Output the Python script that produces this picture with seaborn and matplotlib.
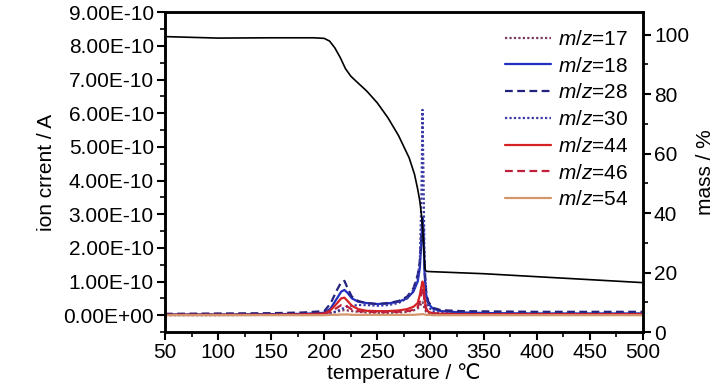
import numpy as np
import pandas as pd
import seaborn as sns
import matplotlib.pyplot as plt
from matplotlib.ticker import FuncFormatter, MultipleLocator

# temperature grid for the MS signals (deg C)
temp = [50, 100, 150, 180, 200, 206, 212, 216, 219, 222, 226, 232, 240, 250, 260,
        270, 278, 284, 288, 290, 291.5, 292.5, 293.5, 294.5, 296, 298, 302, 310,
        330, 360, 400, 450, 500]

# ion currents in units of 1e-10 A
mz17 = [0.0, 0.0, 0.01, 0.01, 0.03, 0.06, 0.1, 0.14, 0.15, 0.14, 0.12, 0.1, 0.08, 0.07, 0.07,
        0.08, 0.1, 0.14, 0.2, 0.28, 0.35, 0.4, 0.32, 0.18, 0.1, 0.06, 0.04, 0.03,
        0.02, 0.02, 0.02, 0.02, 0.02]
mz18 = [0.02, 0.02, 0.03, 0.04, 0.07, 0.2, 0.5, 0.7, 0.75, 0.66, 0.5, 0.4, 0.36, 0.33, 0.35,
        0.4, 0.5, 0.7, 1.0, 1.4, 2.2, 2.9, 2.4, 1.2, 0.6, 0.35, 0.2, 0.12,
        0.08, 0.06, 0.05, 0.05, 0.05]
mz28 = [0.04, 0.05, 0.06, 0.08, 0.12, 0.35, 0.75, 0.98, 1.02, 0.8, 0.55, 0.42, 0.36, 0.33, 0.36,
        0.42, 0.55, 0.8, 1.2, 1.6, 2.4, 2.8, 2.5, 1.4, 0.7, 0.4, 0.22, 0.15,
        0.12, 0.11, 0.1, 0.1, 0.1]
mz30 = [0.01, 0.01, 0.02, 0.02, 0.03, 0.06, 0.12, 0.18, 0.22, 0.26, 0.28, 0.3, 0.3, 0.28, 0.3,
        0.36, 0.5, 0.75, 1.1, 1.6, 3.5, 6.1, 4.0, 1.5, 0.5, 0.25, 0.12, 0.07,
        0.05, 0.04, 0.04, 0.04, 0.04]
mz44 = [0.01, 0.01, 0.01, 0.02, 0.05, 0.15, 0.35, 0.5, 0.52, 0.42, 0.28, 0.18, 0.13, 0.12, 0.12,
        0.14, 0.18, 0.25, 0.36, 0.6, 0.85, 1.0, 0.9, 0.5, 0.2, 0.1, 0.06, 0.04,
        0.03, 0.03, 0.03, 0.03, 0.03]
mz46 = [0.01, 0.01, 0.01, 0.02, 0.04, 0.1, 0.22, 0.3, 0.31, 0.25, 0.17, 0.12, 0.1, 0.09, 0.09,
        0.1, 0.12, 0.16, 0.24, 0.4, 0.65, 0.8, 0.7, 0.35, 0.15, 0.08, 0.05, 0.04,
        0.03, 0.03, 0.03, 0.03, 0.03]
mz54 = [0.0, 0.0, 0.0, 0.0, 0.0, 0.01, 0.01, 0.02, 0.02, 0.02, 0.01, 0.01, 0.01, 0.01, 0.01,
        0.01, 0.01, 0.01, 0.02, 0.02, 0.03, 0.03, 0.03, 0.02, 0.01, 0.01, 0.0, 0.0,
        0.0, 0.0, 0.0, 0.0, 0.0]

# TG curve
mass_temp = [50, 100, 150, 190, 200, 205, 210, 215, 220, 225, 230, 240, 250, 260, 270,
             280, 285, 288, 290, 292, 293, 294, 295, 296, 300, 350, 400, 450, 500]
mass = [99.3, 98.8, 98.9, 98.9, 98.7, 97.8, 95.5, 92.3, 88.5, 86.0, 84.3, 81.0, 77.0, 72.0, 66.0,
        58.5, 53.0, 48.0, 44.0, 38.0, 33.0, 26.0, 21.0, 20.4, 20.3, 19.6, 18.6, 17.6, 16.6]

series = [
    ("17", mz17, "#7b3a5c", (0, (1, 1))),
    ("18", mz18, "#1f2fc0", "-"),
    ("28", mz28, "#23237e", (0, (3.5, 2))),
    ("30", mz30, "#3a3aa6", (0, (1, 1))),
    ("44", mz44, "#d42222", "-"),
    ("46", mz46, "#c0203c", (0, (3.5, 2))),
    ("54", mz54, "#d4956a", "-"),
]

sns.set_theme(style="ticks", rc={"text.color": "black", "axes.labelcolor": "black",
                                 "xtick.color": "black", "ytick.color": "black"})
plt.rcParams["font.family"] = ["Liberation Sans", "DejaVu Sans"]
plt.rcParams["mathtext.fontset"] = "custom"
plt.rcParams["mathtext.it"] = "Liberation Sans:italic"
plt.rcParams["mathtext.rm"] = "Liberation Sans"

fs = 15
fig = plt.figure(figsize=(7.28, 3.9), dpi=100)
ax = fig.add_axes([0.2266, 0.1487, 0.6564, 0.8200])

for name, vals, col, ls in series:
    d = pd.DataFrame({"temperature": temp, "current": np.array(vals) * 1e-10})
    sns.lineplot(data=d, x="temperature", y="current", ax=ax, color=col,
                 linestyle=ls, linewidth=1.6, label=f"$m$/$z$={name}")

ax.set_xlim(50, 500)
ax.set_ylim(-0.5e-10, 9e-10)
ax.xaxis.set_major_locator(MultipleLocator(50))
ax.xaxis.set_minor_locator(MultipleLocator(25))
ax.set_yticks(np.arange(10) * 1e-10)
ax.set_yticks(np.arange(-1, 18) * 0.5e-10, minor=True)
ax.set_ylim(-0.5e-10, 9e-10)
ax.yaxis.set_major_formatter(FuncFormatter(lambda v, p: f"{v:.2E}"))
ax.set_xlabel("temperature / ℃", fontsize=fs, labelpad=1)
ax.set_ylabel("ion crrent / A", fontsize=fs, labelpad=5)
ax.tick_params(axis="both", which="major", labelsize=fs, length=6, width=1.5,
               direction="out", pad=2)
ax.tick_params(axis="both", which="minor", length=3.5, width=1.2, direction="out")

ax.legend(loc="upper right", bbox_to_anchor=(1.0, 0.99), frameon=False, fontsize=fs,
          handlelength=2.2, handletextpad=0.35, labelspacing=0.37, borderpad=0.2)

ax2 = ax.twinx()
dm = pd.DataFrame({"temperature": mass_temp, "mass": mass})
sns.lineplot(data=dm, x="temperature", y="mass", ax=ax2, color="black", linewidth=1.2)
ax2.set_ylim(0, 107.5)
ax2.set_yticks([0, 20, 40, 60, 80, 100])
ax2.set_yticks([10, 30, 50, 70, 90], minor=True)
ax2.set_ylabel("mass / %", fontsize=fs, labelpad=5)
ax2.tick_params(axis="y", which="major", labelsize=fs, length=6, width=1.5,
                direction="out", pad=2)
ax2.tick_params(axis="y", which="minor", length=3.5, width=1.2, direction="out")

for a in (ax, ax2):
    for s in a.spines.values():
        s.set_linewidth(1.8)
        s.set_color("black")

fig.savefig("out.png", dpi=100)
